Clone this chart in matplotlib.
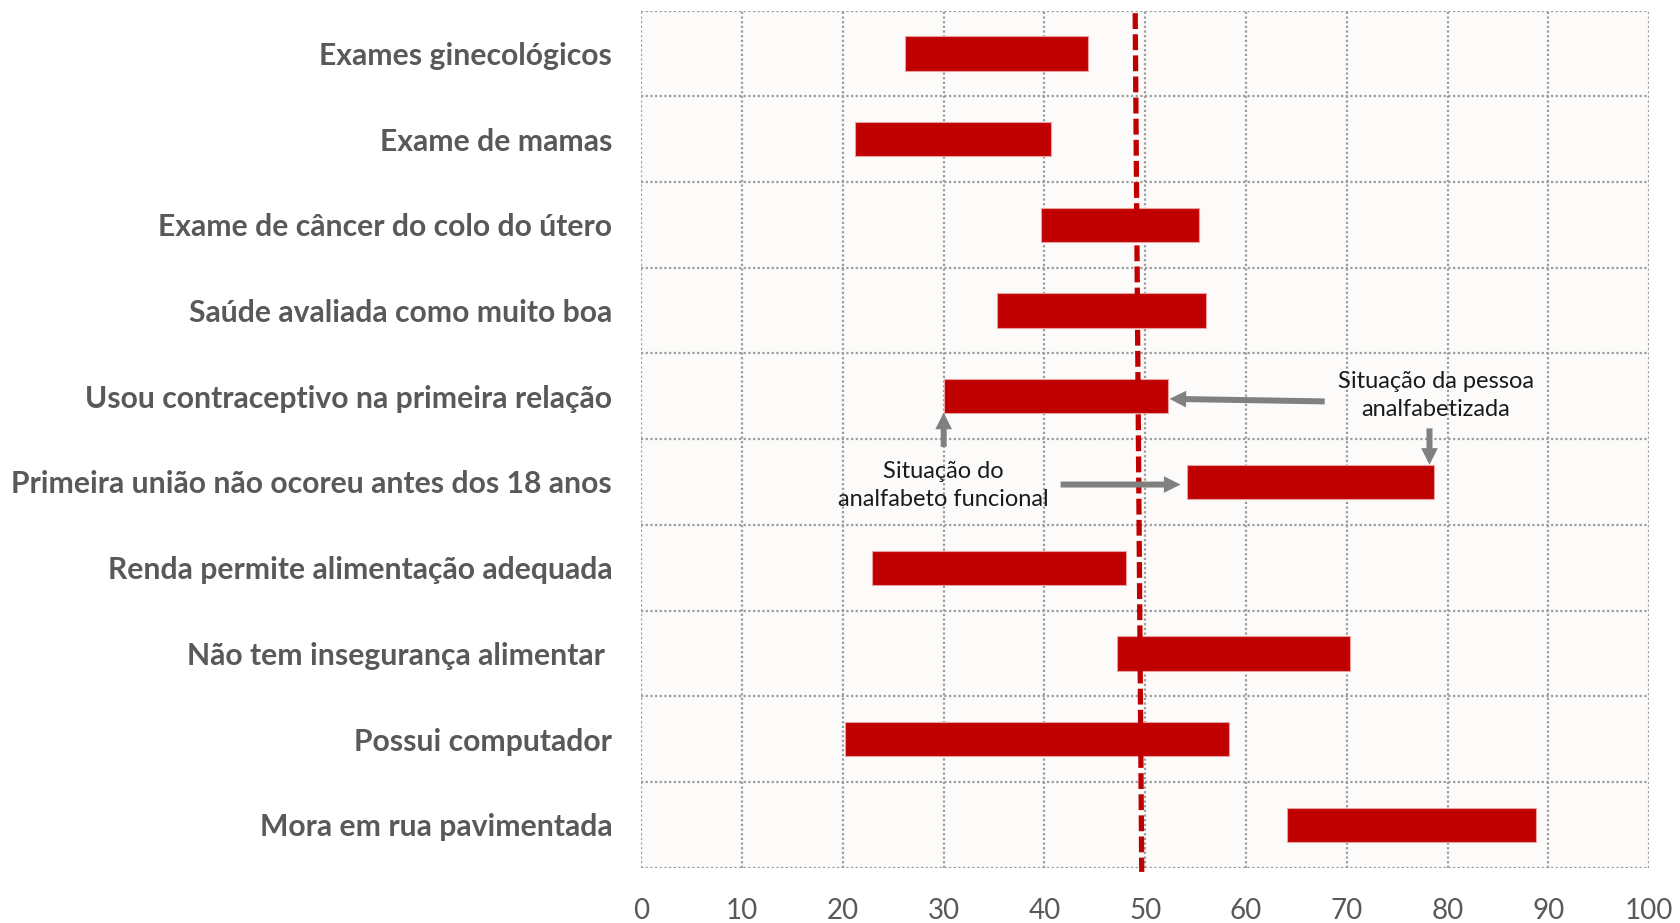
import numpy as np
import matplotlib
matplotlib.use('Agg')
import matplotlib.pyplot as plt

plt.rcParams['font.family'] = ['Lato', 'DejaVu Sans']

# categorias (de cima para baixo)
categorias = ['Exames ginecológicos', 'Exame de mamas', 'Exame de câncer do colo do útero',
              'Saúde avaliada como muito boa', 'Usou contraceptivo na primeira relação',
              'Primeira união não ocoreu antes dos 18 anos', 'Renda permite alimentação adequada',
              'Não tem insegurança alimentar ', 'Possui computador', 'Mora em rua pavimentada']
# inicio e fim de cada barra (%)
inicio = [26.2, 21.2, 39.7, 35.3, 30.0, 54.1, 22.9, 47.2, 20.2, 64.1]
fim = [44.3, 40.6, 55.3, 56.0, 52.3, 78.6, 48.1, 70.3, 58.3, 88.8]
# linha de referencia (tracejada), topo e base
ref_topo, ref_base = 49.0, 49.65
xticks = list(range(0, 101, 10))

vermelho = '#C00000'
cinza_txt = '#595959'
cinza_seta = '#808080'

fig = plt.figure(figsize=(16.81, 9.23), dpi=100)
ax = fig.add_axes([0.3815, 0.06, 0.9811 - 0.3815, 0.9885 - 0.06])
ax.set_facecolor('#FCFBFA')

n = len(categorias)
y = np.arange(n)
ax.set_xlim(0, 100)
ax.set_ylim(n - 0.5, -0.5)

# grade pontilhada
for xv in xticks:
    ax.axvline(xv, color='#9C9C9C', lw=1.6, linestyle=(0, (1, 1.1)), zorder=1)
for yv in np.arange(-0.5, n, 1.0):
    ax.axhline(yv, color='#9C9C9C', lw=1.6, linestyle=(0, (1, 1.1)), zorder=1)

largura = np.array(fim) - np.array(inicio)
ax.barh(y, largura, left=inicio, height=0.4, color=vermelho,
        edgecolor='#E8A0A0', linewidth=0.8, zorder=3)

ax.plot([ref_topo, ref_base], [-0.47, n - 0.45], color=vermelho, lw=3.8,
        dashes=(3, 1), zorder=4, clip_on=False)

for s in ax.spines.values():
    s.set_visible(False)

ax.set_xticks(xticks)
ax.set_xticklabels([str(v) for v in xticks], fontsize=20, color=cinza_txt)
ax.set_yticks(y)
ax.set_yticklabels(categorias, fontsize=21.7, fontweight='bold', color=cinza_txt)
ax.tick_params(axis='both', length=0)
ax.tick_params(axis='y', pad=21)
ax.tick_params(axis='x', pad=22)

# anotacoes
seta = dict(arrowstyle='simple,head_length=0.5,head_width=0.5,tail_width=0.18',
            mutation_scale=24, color=cinza_seta, lw=0, shrinkA=0, shrinkB=0)
ax.annotate('', xy=(52.4, 4.03), xytext=(67.8, 4.06), arrowprops=seta, zorder=5)
ax.annotate('', xy=(30.0, 4.19), xytext=(30.0, 4.59), arrowprops=seta, zorder=5)
ax.annotate('', xy=(78.2, 4.80), xytext=(78.2, 4.375), arrowprops=seta, zorder=5)
ax.annotate('', xy=(53.5, 5.03), xytext=(41.6, 5.03), arrowprops=seta, zorder=5)

ax.text(78.8, 3.99, 'Situação da pessoa\nanalfabetizada', ha='center', va='center',
        fontsize=17, color='#1A1A1A', linespacing=1.4, zorder=6)
ax.text(30.0, 5.04, 'Situação do\nanalfabeto funcional', ha='center', va='center',
        fontsize=17, color='#1A1A1A', linespacing=1.4, zorder=6)

fig.savefig('out.png', dpi=100)
